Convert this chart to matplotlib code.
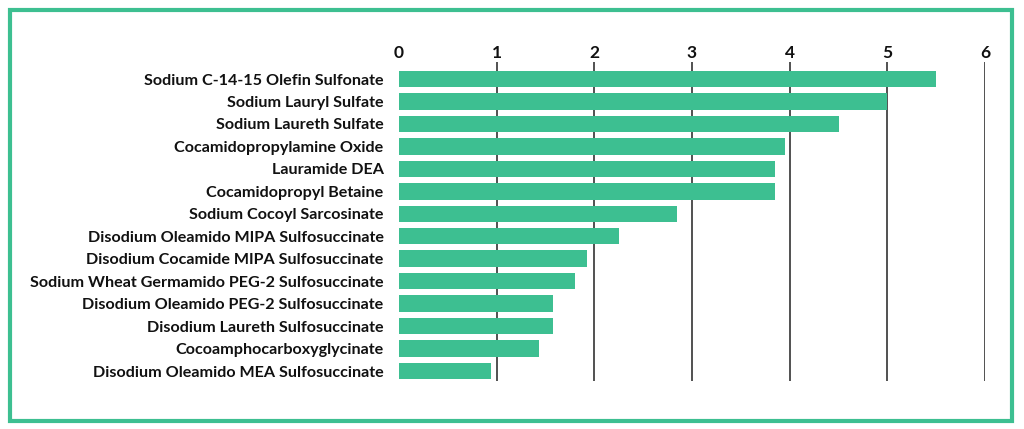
import matplotlib.pyplot as plt
from matplotlib.patches import Rectangle

# surfactant names, top to bottom
names = [
    "Sodium C-14-15 Olefin Sulfonate",
    "Sodium Lauryl Sulfate",
    "Sodium Laureth Sulfate",
    "Cocamidopropylamine Oxide",
    "Lauramide DEA",
    "Cocamidopropyl Betaine",
    "Sodium Cocoyl Sarcosinate",
    "Disodium Oleamido MIPA Sulfosuccinate",
    "Disodium Cocamide MIPA Sulfosuccinate",
    "Sodium Wheat Germamido PEG-2 Sulfosuccinate",
    "Disodium Oleamido PEG-2 Sulfosuccinate",
    "Disodium Laureth Sulfosuccinate",
    "Cocoamphocarboxyglycinate",
    "Disodium Oleamido MEA Sulfosuccinate",
]
values = [5.5, 5.0, 4.5, 3.95, 3.85, 3.85, 2.85, 2.25, 1.92, 1.8, 1.58, 1.58, 1.43, 0.94]
ticks = [0, 1, 2, 3, 4, 5, 6]

GREEN = "#3dbf91"

plt.rcParams["font.family"] = ["Lato", "DejaVu Sans"]

fig = plt.figure(figsize=(10.24, 4.29), dpi=100)
W, H = 1024, 429
# axes box in pixels: x 399..985, y 62..381
ax = fig.add_axes([399 / W, 1 - 381 / H, (985 - 399) / W, (381 - 62) / H])

ypos = list(range(len(names)))
ax.barh(ypos, values, height=0.73, color=GREEN, zorder=3)

ax.set_xlim(0, 6)
ax.set_ylim(13.445, -0.757)

ax.set_yticks(ypos)
ax.set_yticklabels(names, fontsize=11.6, fontweight="bold", color="#111111")
ax.set_xticks(ticks)
ax.set_xticklabels([str(t) for t in ticks], fontsize=12.5, fontweight="bold", color="#111111")
ax.xaxis.tick_top()
ax.tick_params(axis="both", length=0)
ax.tick_params(axis="x", pad=1)
ax.tick_params(axis="y", pad=11)

for t in ticks[1:]:
    ax.axvline(t, color="#222222", lw=1.1, zorder=1)

for s in ax.spines.values():
    s.set_visible(False)

# green frame around the whole chart
fig.patches.append(Rectangle((10 / W, 1 - 421 / H), (1012 - 10) / W, (421 - 10) / H,
                             transform=fig.transFigure, fill=False,
                             edgecolor=GREEN, lw=3))

fig.savefig("out.png", dpi=100)
